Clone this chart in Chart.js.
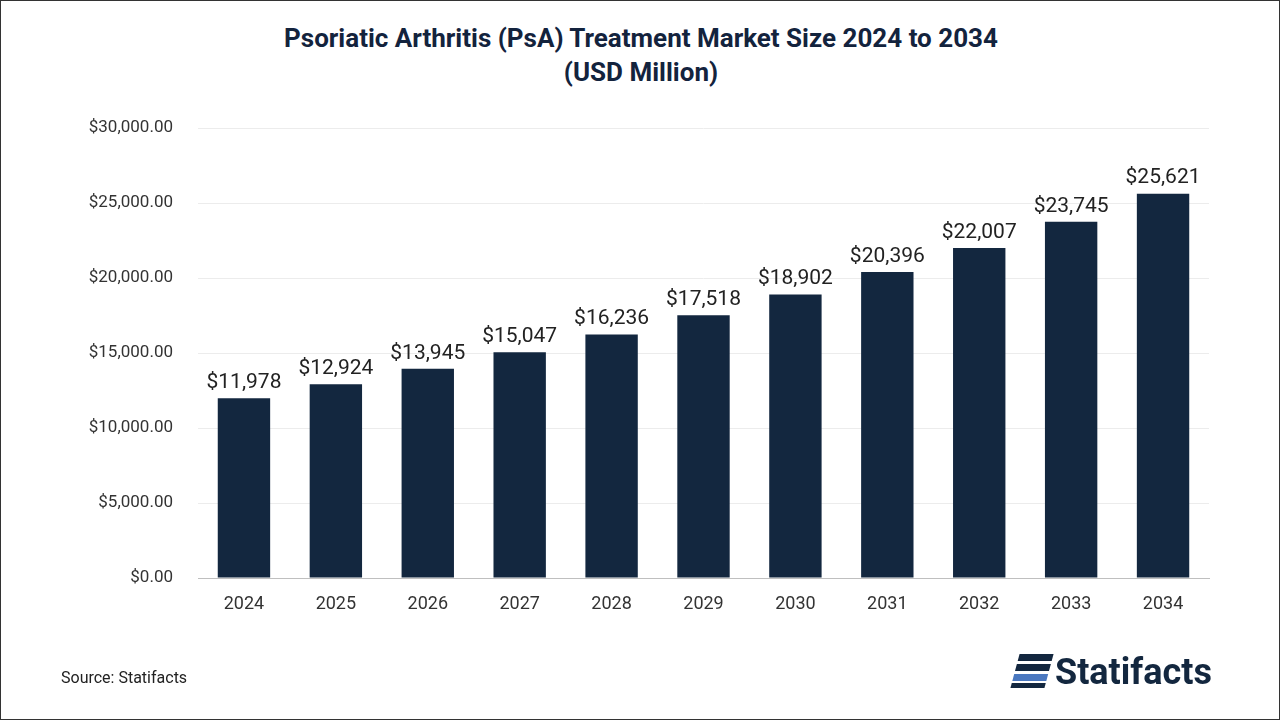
<!DOCTYPE html>
<html>
<head>
<meta charset="utf-8">
<script src="https://cdn.jsdelivr.net/npm/chart.js@4"></script>
<style>
    body { margin: 0; background: #fff; font-family: Roboto, "Open Sans", Arial, sans-serif; }
    #wrap { position: relative; width: 1278px; height: 718px; border: 1px solid #333; overflow: hidden; }
    #title { position: absolute; top: 20px; left: 0; width: 1280px; text-align: center; font-size: 26px; font-weight: bold; color: #13233d; line-height: 34px; }
    #source { position: absolute; left: 60px; top: 667px; font-size: 16px; color: #222; }
    #logo { position: absolute; left: 1014px; top: 650px; font-size: 36px; font-weight: bold; color: #13273f; }
    #logo span.icon { display: inline-block; width: 34px; height: 34px; background: linear-gradient(#13273f 0 20%, #fff 20% 30%, #13273f 30% 50%, #fff 50% 60%, #4a78c0 60% 80%, #fff 80% 85%, #13273f 85%); transform: skewX(-15deg); vertical-align: -4px; margin-right: 6px; }
    canvas { position: absolute; left: 0; top: 0; }
</style>
</head>
<body>
<div id="wrap">
    <div id="title">Psoriatic Arthritis (PsA) Treatment Market Size 2024 to 2034<br>(USD Million)</div>
    <canvas id="chart" width="1280" height="720"></canvas>
    <div id="source">Source: Statifacts</div>
    <div id="logo"><span class="icon"></span>Statifacts</div>
</div>
<script>
    var years = ['2024', '2025', '2026', '2027', '2028', '2029', '2030', '2031', '2032', '2033', '2034'];
    var marketSize = [11978, 12924, 13945, 15047, 16236, 17518, 18902, 20396, 22007, 23745, 25621];

    // labels above bars
    var barLabels = {
        id: 'barLabels',
        afterDatasetsDraw: function (chart) {
            var ctx = chart.ctx;
            var meta = chart.getDatasetMeta(0);
            ctx.save();
            ctx.font = '21px Roboto, sans-serif';
            ctx.fillStyle = '#222';
            ctx.textAlign = 'center';
            ctx.textBaseline = 'bottom';
            meta.data.forEach(function (bar, i) {
                ctx.fillText('$' + marketSize[i].toLocaleString('en-US'), bar.x, bar.y - 5);
            });
            ctx.restore();
        }
    };

    new Chart(document.getElementById('chart').getContext('2d'), {
        type: 'bar',
        data: {
            labels: years,
            datasets: [{
                data: marketSize,
                backgroundColor: '#13273f',
                categoryPercentage: 1,
                barPercentage: 0.57
            }]
        },
        options: {
            responsive: false,
            animation: false,
            layout: { padding: { left: 0, right: 72, top: 127, bottom: 93 } },
            plugins: { legend: { display: false }, tooltip: { enabled: false } },
            scales: {
                x: {
                    grid: { display: false },
                    border: { color: '#bfbfbf' },
                    ticks: { color: '#333', font: { size: 18, family: 'Roboto' }, padding: 8 },
                    afterFit: function (s) { s.height = 50; }
                },
                y: {
                    min: 0, max: 30000,
                    grid: { color: '#ececec', drawTicks: false },
                    border: { display: false },
                    ticks: {
                        stepSize: 5000, padding: 25, color: '#333',
                        font: { size: 17, family: 'Roboto' },
                        callback: function (v) { return '$' + v.toLocaleString('en-US', { minimumFractionDigits: 2, maximumFractionDigits: 2 }); }
                    },
                    afterFit: function (s) { s.width = 197; }
                }
            }
        },
        plugins: [barLabels]
    });
</script>
</body>
</html>
